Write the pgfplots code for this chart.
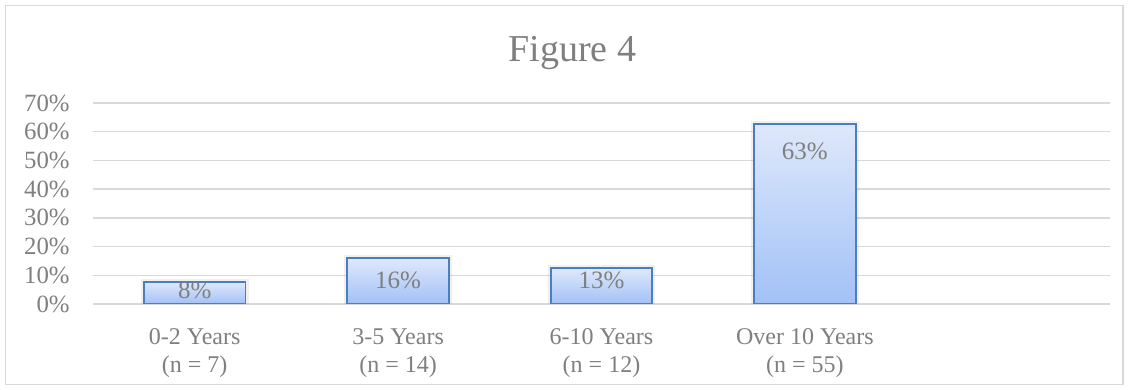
\documentclass[border=0pt]{standalone}
\usepackage{fontspec}
\setmainfont{Liberation Serif}
\usepackage{pgfplots}
\pgfplotsset{compat=1.18}
\definecolor{txt}{HTML}{7F7F7F}
\definecolor{gridc}{HTML}{D9D9D9}
\definecolor{bartop}{HTML}{DEE8FB}
\definecolor{barbot}{HTML}{A2C1F6}
\definecolor{barline}{HTML}{4A7EBF}
\begin{document}
\begin{tikzpicture}
\useasboundingbox (-46.5pt,-43pt) rectangle (518pt,152pt);
\draw[gridc, line width=0.6pt] (-43.6pt,-40.3pt) rectangle (515pt,149.2pt);
\begin{axis}[
  at={(0,0)}, anchor=south west, scale only axis,
  width=508.5pt, height=100.5pt,
  xmin=-0.5, xmax=4.5, ymin=0, ymax=70,
  axis line style={draw=none}, major tick style={draw=none},
  ymajorgrids, grid style={gridc, line width=0.7pt},
  ytick={0,10,20,30,40,50,60,70},
  yticklabels={0\%,10\%,20\%,30\%,40\%,50\%,60\%,70\%},
  yticklabel style={anchor=east, inner sep=0pt, xshift=-11.5pt, text=txt, font=\fontsize{12.4}{14}\selectfont},
  xtick={0,1,2,3},
  xticklabels={{0-2 Years\\(n = 7)},{3-5 Years\\(n = 14)},{6-10 Years\\(n = 12)},{Over 10 Years\\(n = 55)}},
  xticklabel style={align=center, anchor=north, inner sep=0pt, yshift=-12pt, text=txt, font=\fontsize{12}{14.3}\selectfont},
  every node near coord/.append style={anchor=base, inner sep=0pt, text=txt, font=\fontsize{12.5}{14}\selectfont},
  bar width=0.5, bar shift=0pt,
]
% soft shadow
\addplot[ybar, draw=black, draw opacity=0.06, line width=3pt, fill=none] coordinates {(0,7.6) (1,15.9) (2,12.4) (3,62.6)};
\addplot[ybar, draw=barline, line width=0.9pt, top color=bartop, bottom color=barbot,
  nodes near coords={8\%}, nodes near coords style={yshift=-8.2pt}] coordinates {(0,7.6)};
\addplot[ybar, draw=barline, line width=0.9pt, top color=bartop, bottom color=barbot,
  nodes near coords={16\%}, nodes near coords style={yshift=-15pt}] coordinates {(1,15.9)};
\addplot[ybar, draw=barline, line width=0.9pt, top color=bartop, bottom color=barbot,
  nodes near coords={13\%}, nodes near coords style={yshift=-10pt}] coordinates {(2,12.4)};
\addplot[ybar, draw=barline, line width=0.9pt, top color=bartop, bottom color=barbot,
  nodes near coords={63\%}, nodes near coords style={yshift=-17.5pt}] coordinates {(3,62.6)};
\end{axis}
\node[anchor=base, inner sep=0pt, text=txt, font=\fontsize{19}{22}\selectfont] at (239.7pt,121.2pt) {Figure 4};
\end{tikzpicture}
\end{document}
